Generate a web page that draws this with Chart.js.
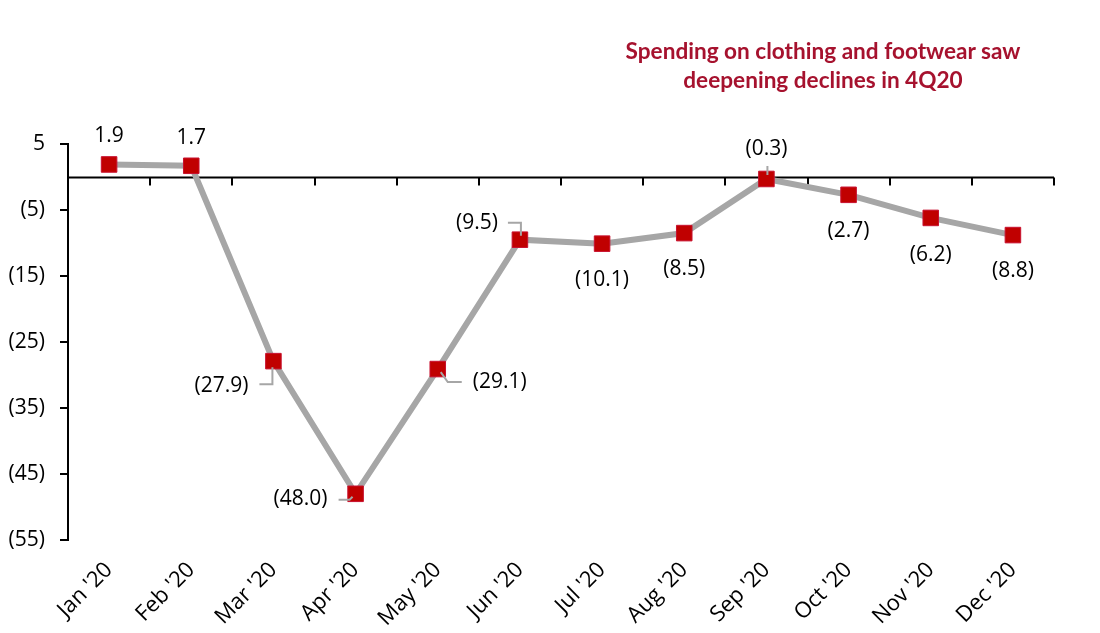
<!DOCTYPE html>
<html lang="en">
<head>
  <meta charset="UTF-8" />
  <title>Clothing and footwear spending</title>
  <script src="https://cdn.jsdelivr.net/npm/chart.js"></script>
  <style>
    html, body { margin: 0; padding: 0; background: #fff; }
    .wrap { position: relative; width: 1100px; height: 633px; }
    .chart-title {
      position: absolute;
      left: 573px;
      top: 36px;
      width: 500px;
      text-align: center;
      font-family: Lato, "Open Sans", sans-serif;
      font-weight: bold;
      font-size: 22.6px;
      line-height: 29px;
      color: #a6122e;
    }
  </style>
</head>
<body>
  <div class="wrap">
    <div class="chart-title">Spending on clothing and footwear saw<br />deepening declines in 4Q20</div>
    <canvas id="spendChart" width="1100" height="633"></canvas>
  </div>

  <script>
    const months = ["Jan '20", "Feb '20", "Mar '20", "Apr '20", "May '20", "Jun '20",
                    "Jul '20", "Aug '20", "Sep '20", "Oct '20", "Nov '20", "Dec '20"];
    const growth = [1.9, 1.7, -27.9, -48.0, -29.1, -9.5, -10.1, -8.5, -0.3, -2.7, -6.2, -8.8];
    const yTicks = [5, -5, -15, -25, -35, -45, -55];

    // where each value label sits relative to its marker, plus optional leader line
    const labelPlace = [
      { dx: 0, dy: -28 },
      { dx: 0, dy: -28 },
      { dx: -52, dy: 25, leader: [[-1, 6], [-1, 23], [-14, 23]] },
      { dx: -55, dy: 5, leader: [[-17, 6], [-6, 6], [-3, 3]] },
      { dx: 62, dy: 13, leader: [[3, 3], [10, 13], [24, 13]] },
      { dx: -43, dy: -17, leader: [[-12, -17], [1, -17], [1, -4]] },
      { dx: 0, dy: 36 },
      { dx: 0, dy: 36 },
      { dx: 0, dy: -30, leader: [[1, -13], [1, -4]] },
      { dx: 0, dy: 36 },
      { dx: 0, dy: 37 },
      { dx: 0, dy: 36 }
    ];

    const fmt = v => v < 0 ? '(' + Math.abs(v).toFixed(1) + ')' : v.toFixed(1);
    const fmtTick = v => v < 0 ? '(' + Math.abs(v) + ')' : String(v);
    const baseFont = { family: "'Open Sans', sans-serif", size: 21 };

    // horizontal zero line with tick marks between categories
    const zeroLine = {
      id: 'zeroLine',
      beforeDatasetsDraw(chart) {
        const { ctx, chartArea, scales } = chart;
        const y0 = Math.round(scales.y.getPixelForValue(0)) + 0.5;
        const step = (chartArea.right - chartArea.left) / months.length;
        ctx.save();
        ctx.strokeStyle = '#000';
        ctx.lineWidth = 2;
        ctx.beginPath();
        ctx.moveTo(chartArea.left, y0);
        ctx.lineTo(chartArea.right, y0);
        for (let i = 1; i <= months.length; i++) {
          const x = Math.round(chartArea.left + i * step);
          ctx.moveTo(x, y0);
          ctx.lineTo(x, y0 + 8);
        }
        ctx.stroke();
        ctx.restore();
      }
    };

    const valueLabels = {
      id: 'valueLabels',
      afterDatasetsDraw(chart) {
        const { ctx } = chart;
        const pts = chart.getDatasetMeta(0).data;
        ctx.save();
        pts.forEach((p, i) => {
          const pl = labelPlace[i];
          if (pl.leader) {
            ctx.strokeStyle = '#a6a6a6';
            ctx.lineWidth = 2;
            ctx.beginPath();
            pl.leader.forEach(([lx, ly], k) => {
              if (k === 0) ctx.moveTo(p.x + lx, p.y + ly);
              else ctx.lineTo(p.x + lx, p.y + ly);
            });
            ctx.stroke();
          }
          ctx.fillStyle = '#000';
          ctx.font = baseFont.size + 'px ' + baseFont.family;
          ctx.textAlign = 'center';
          ctx.textBaseline = 'middle';
          ctx.fillText(fmt(growth[i]), p.x + pl.dx, p.y + pl.dy);
        });
        ctx.restore();
      }
    };

    new Chart(document.getElementById('spendChart'), {
      type: 'line',
      data: {
        labels: months,
        datasets: [{
          data: growth,
          borderColor: '#a6a6a6',
          borderWidth: 6,
          pointStyle: 'rect',
          pointRadius: 11,
          pointBackgroundColor: '#c00000',
          pointBorderColor: '#c8102e',
          pointBorderWidth: 1,
          tension: 0
        }]
      },
      options: {
        responsive: false,
        animation: false,
        layout: { padding: { top: 144, right: 46, left: 0, bottom: 0 } },
        plugins: { legend: { display: false }, tooltip: { enabled: false } },
        scales: {
          x: {
            offset: true,
            grid: { display: false },
            border: { display: false },
            ticks: {
              color: '#000',
              font: { family: baseFont.family, size: 22 },
              minRotation: 45,
              maxRotation: 45,
              padding: 9
            },
            afterFit(scale) { scale.height = 93; }
          },
          y: {
            min: -55,
            max: 5,
            afterBuildTicks(scale) { scale.ticks = yTicks.map(v => ({ value: v })); },
            grid: { drawOnChartArea: false, tickLength: 8, color: '#000', lineWidth: 2 },
            border: { display: true, color: '#000', width: 2 },
            ticks: {
              color: '#000',
              font: baseFont,
              padding: 15,
              callback: v => fmtTick(v)
            },
            afterFit(scale) { scale.width = 68; }
          }
        }
      },
      plugins: [zeroLine, valueLabels]
    });
  </script>
</body>
</html>
